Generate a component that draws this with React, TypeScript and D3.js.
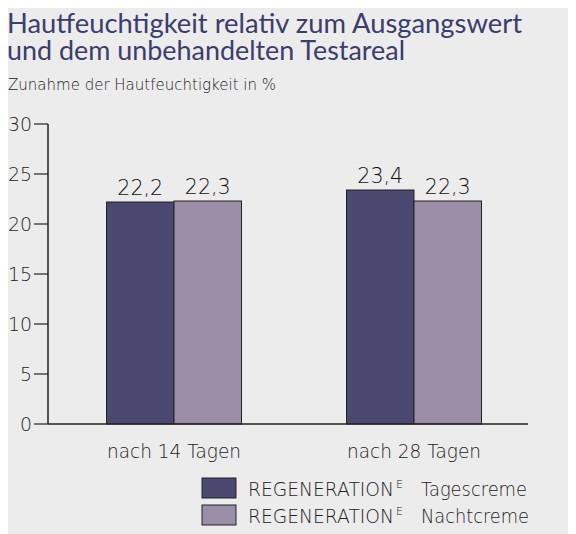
import React from "react";
import * as d3 from "d3";

const categories = ["nach 14 Tagen", "nach 28 Tagen"];
const seriesNames = ["Tagescreme", "Nachtcreme"];
const tagescreme = [22.2, 23.4];
const nachtcreme = [22.3, 22.3];
const valueLabels = [["22,2", "22,3"], ["23,4", "22,3"]];
const yTicks = [0, 5, 10, 15, 20, 25, 30];

const colors = ["#4a486f", "#9a8fa7"];
const FONT = "Lato, 'Open Sans', sans-serif";
const THIN = "'DejaVu Sans', Lato, sans-serif";

export default function App() {
  const W = 576, H = 534;
  const y = d3.scaleLinear().domain([0, 30]).range([424, 124]);
  const x = d3.scaleBand<string>().domain(categories).range([54, 534]).paddingInner(0.4375).paddingOuter(0.21875);
  const inner = d3.scaleBand<number>().domain([0, 1]).range([0, x.bandwidth()]);
  const series = [tagescreme, nachtcreme];
  const axisLeft = 48, axisRight = 528;

  return (
    <svg width={W - 8} height={H - 8} style={{ display: "block" }}>
      <g transform="translate(-8,-8)">
        <rect x={8} y={8} width={W - 8} height={H - 8} fill="#ececec" />
        <text x={7} y={33} fontFamily={FONT} fontSize={26} fill="#3b3d6b" textLength={515} lengthAdjust="spacingAndGlyphs">Hautfeuchtigkeit relativ zum Ausgangswert</text>
        <text x={7} y={60} fontFamily={FONT} fontSize={26} fill="#3b3d6b" textLength={398} lengthAdjust="spacingAndGlyphs">und dem unbehandelten Testareal</text>
        <text x={8} y={90} fontFamily={THIN} fontWeight={200} fontSize={16} fill="#222" textLength={268} lengthAdjust="spacingAndGlyphs">Zunahme der Hautfeuchtigkeit in %</text>

        {yTicks.map((t) => (
          <g key={t}>
            <line x1={34} x2={axisLeft} y1={y(t)} y2={y(t)} stroke="#222" strokeWidth={1.2} />
            <text x={32} y={y(t)} dy="0.36em" textAnchor="end" fontFamily={THIN} fontWeight={200} fontSize={20} fill="#222" textLength={String(t).length * 12} lengthAdjust="spacingAndGlyphs">{t}</text>
          </g>
        ))}

        {categories.map((c, i) => (
          <g key={c}>
            {series.map((s, j) => {
              const bx = (x(c) as number) + (inner(j) as number);
              return (
                <g key={j}>
                  <rect x={bx} y={y(s[i])} width={inner.bandwidth()} height={y(0) - y(s[i])} fill={colors[j]} stroke="#222" strokeWidth={1} />
                  <text x={bx + inner.bandwidth() / 2} y={y(s[i]) - 7} textAnchor="middle" fontFamily={THIN} fontWeight={200} fontSize={21} fill="#111" textLength={46} lengthAdjust="spacingAndGlyphs">{valueLabels[i][j]}</text>
                </g>
              );
            })}
            <text x={(x(c) as number) + x.bandwidth() / 2} y={458} textAnchor="middle" fontFamily={THIN} fontWeight={200} fontSize={19} fill="#222" textLength={134} lengthAdjust="spacingAndGlyphs">{c}</text>
          </g>
        ))}

        <line x1={axisLeft} x2={axisLeft} y1={y(30)} y2={y(0)} stroke="#222" strokeWidth={1.5} />
        <line x1={axisLeft} x2={axisRight} y1={y(0)} y2={y(0)} stroke="#222" strokeWidth={1.5} />

        {seriesNames.map((n, j) => {
          const ly = 478 + j * 27;
          return (
            <g key={n}>
              <rect x={202} y={ly} width={34} height={20} fill={colors[j]} stroke="#222" strokeWidth={1} />
              <text y={ly + 18} fontFamily={THIN} fontWeight={200} fontSize={19} fill="#222">
                <tspan x={248} textLength={146} lengthAdjust="spacingAndGlyphs">REGENERATION</tspan>
                <tspan x={396} y={ly + 10} fontSize={11}>E</tspan>
                <tspan x={421} y={ly + 18} textLength={n === "Tagescreme" ? 106 : 108} lengthAdjust="spacingAndGlyphs">{n}</tspan>
              </text>
            </g>
          );
        })}
      </g>
    </svg>
  );
}
